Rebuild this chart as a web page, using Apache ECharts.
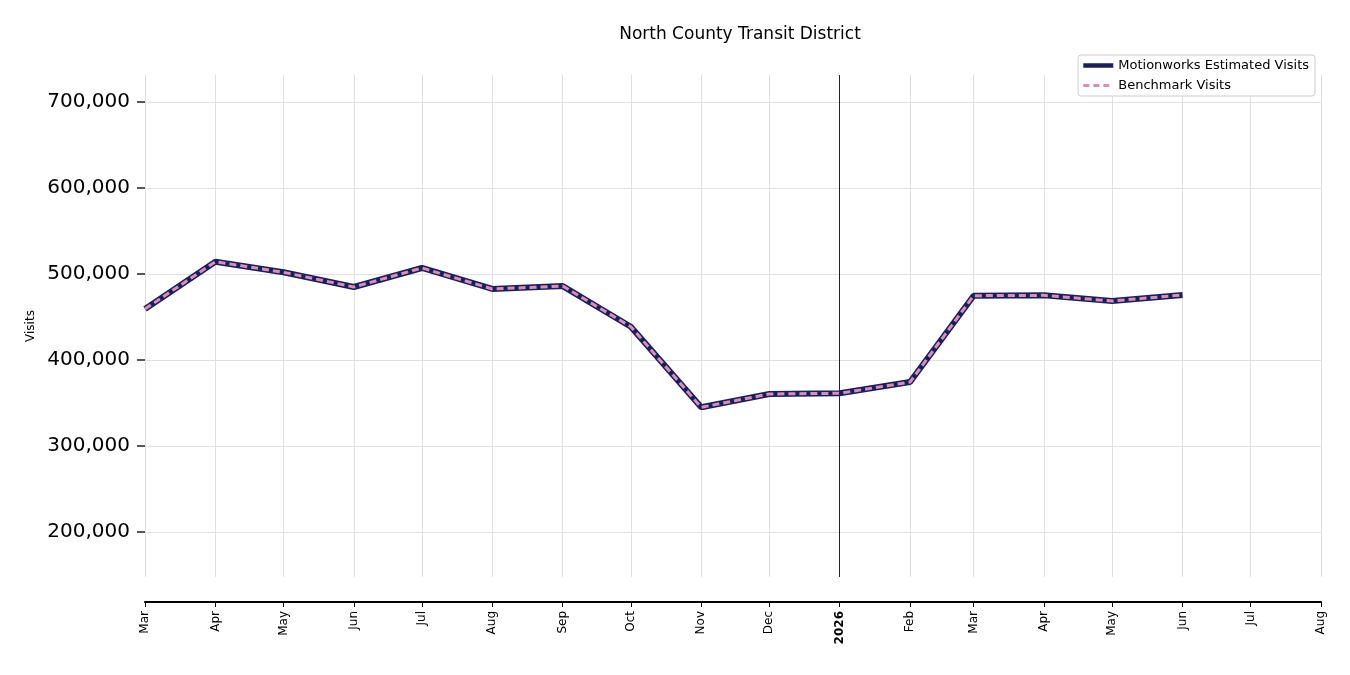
<!DOCTYPE html>
<html>
<head>
<meta charset="utf-8">
<title>North County Transit District</title>
<script src="https://cdn.jsdelivr.net/npm/echarts@6/dist/echarts.min.js"></script>
<style>
  html, body { margin: 0; padding: 0; background: #fff; }
  #chart { width: 1350px; height: 675px; }
</style>
</head>
<body>
<div id="chart"></div>
<script>
// monthly values
var months = ['2025-03-01', '2025-04-01', '2025-05-01', '2025-06-01', '2025-07-01', '2025-08-01',
  '2025-09-01', '2025-10-01', '2025-11-01', '2025-12-01', '2026-01-01', '2026-02-01',
  '2026-03-01', '2026-04-01', '2026-05-01', '2026-06-01'];
var estimatedVisits = [459300, 514300, 502000, 484900, 507000, 482600, 486000, 438700,
  345000, 360500, 361300, 374400, 474800, 475200, 468600, 475600];
var benchmarkVisits = [459300, 514300, 502000, 484900, 507000, 482600, 486000, 438700,
  345000, 360500, 361300, 374400, 474800, 475200, 468600, 475600];
var yTicks = [200000, 300000, 400000, 500000, 600000, 700000];
var monthNames = ['Jan', 'Feb', 'Mar', 'Apr', 'May', 'Jun', 'Jul', 'Aug', 'Sep', 'Oct', 'Nov', 'Dec'];

function pairs(vals) {
  return months.map(function (m, i) { return [m, vals[i]]; });
}

var font = 'DejaVu Sans';
var chart = echarts.init(document.getElementById('chart'));

chart.setOption({
  animation: false,
  textStyle: { fontFamily: font },
  title: {
    text: 'North County Transit District',
    left: 735, top: 21, textAlign: 'center',
    textStyle: { fontSize: 17, fontWeight: 'normal', color: '#000', fontFamily: font }
  },
  legend: {
    orient: 'vertical',
    right: 35, top: 55,
    padding: [4, 6, 4, 3],
    itemGap: 7,
    itemWidth: 30, itemHeight: 14,
    borderColor: '#cccccc', borderWidth: 1, borderRadius: 3,
    backgroundColor: '#fff',
    itemStyle: { opacity: 0 },
    textStyle: { fontSize: 13, color: '#000', fontFamily: font },
    data: [
      { name: 'Motionworks Estimated Visits', lineStyle: { width: 4.5 } },
      { name: 'Benchmark Visits', lineStyle: { width: 3, type: [6, 4] } }
    ]
  },
  grid: { left: 145, right: 29, top: 75, bottom: 98 },
  xAxis: {
    type: 'time',
    min: '2025-03-01', max: '2026-08-01',
    splitNumber: 17,
    minInterval: 28 * 86400000,
    maxInterval: 31 * 86400000,
    offset: 25,
    axisLine: { show: true, lineStyle: { color: '#000', width: 2 } },
    axisTick: { show: true, length: 5, lineStyle: { color: '#000' } },
    minorTick: { show: false },
    splitLine: { show: true, lineStyle: { color: '#e0e0e0', width: 1 } },
    axisLabel: {
      rotate: 90,
      margin: 9,
      fontSize: 12, color: '#000', fontFamily: font,
      showMinLabel: true, showMaxLabel: true,
      hideOverlap: false,
      formatter: function (value) {
        var d = new Date(value);
        if (d.getMonth() === 0) return '{yr|' + d.getFullYear() + '}';
        return monthNames[d.getMonth()];
      },
      rich: { yr: { fontWeight: 'bold', fontSize: 12, color: '#000', fontFamily: font } }
    }
  },
  yAxis: {
    type: 'value',
    min: 147700, max: 731400,
    name: 'Visits',
    nameLocation: 'middle',
    nameGap: 108,
    nameTextStyle: { fontSize: 12, color: '#000', fontFamily: font },
    axisLine: { show: false },
    axisTick: { show: true, length: 8, customValues: yTicks, lineStyle: { color: '#222', width: 1.5 } },
    splitLine: { show: true, lineStyle: { color: '#e0e0e0', width: 1 } },
    axisLabel: {
      customValues: yTicks,
      fontSize: 20, color: '#000', fontFamily: font, margin: 15,
      formatter: function (v) { return v.toLocaleString('en-US'); }
    }
  },
  series: [
    {
      name: 'Motionworks Estimated Visits',
      type: 'line',
      data: pairs(estimatedVisits),
      symbol: 'none',
      itemStyle: { color: '#1b1f5c' },
      lineStyle: { color: '#1b1f5c', width: 6 },
      markLine: {
        silent: true,
        symbol: 'none',
        label: { show: false },
        lineStyle: { color: '#222', width: 1, type: 'solid' },
        data: [{ xAxis: '2026-01-01' }]
      },
      z: 2
    },
    {
      name: 'Benchmark Visits',
      type: 'line',
      data: pairs(benchmarkVisits),
      symbol: 'none',
      itemStyle: { color: '#d890bb' },
      lineStyle: { color: '#d890bb', width: 3, type: [7, 4] },
      z: 3
    }
  ]
});
</script>
</body>
</html>
